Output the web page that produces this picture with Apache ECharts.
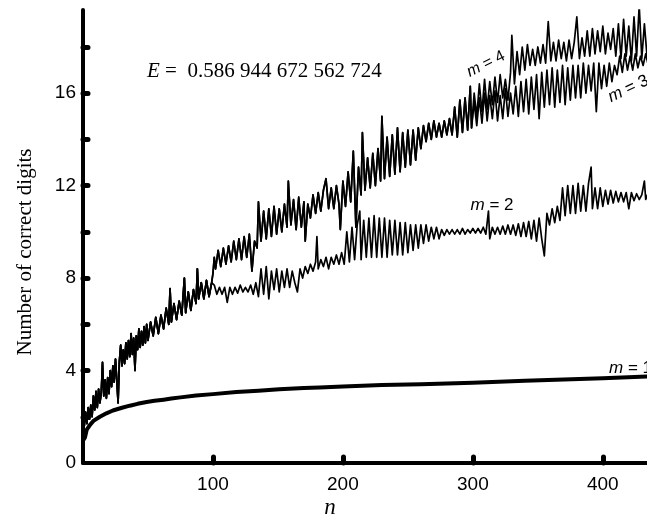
<!DOCTYPE html>
<html>
<head>
<meta charset="utf-8">
<script src="https://cdn.jsdelivr.net/npm/echarts@6/dist/echarts.min.js"></script>
<style>
  html, body { margin: 0; padding: 0; background: #fff; }
  #main { width: 647px; height: 524px; }
</style>
</head>
<body>
<div id="main"></div>
<script>
// values, [n, digits]
var m1Curve = [[0.5,1.0],[1.5,1.1],[2.8,1.43],[5.4,1.65],[8,1.82],[13,2.0],[18,2.15],[23,2.27],[30,2.39],[36,2.48],[42,2.56],[49,2.64],[55,2.69],[62,2.74],[68,2.79],[75,2.84],[87,2.92],[100,2.98],[118,3.07],[135,3.13],[151,3.19],[170,3.24],[182,3.27],[200,3.31],[230,3.37],[260,3.41],[300,3.47],[340,3.56],[370,3.61],[400,3.67],[434,3.74],[450,3.77]];

// shared start of m = 2, 3, 4
var earlyPart = [[1,1.6],[2,2.2],[3,1.7],[4,2.4],[5,1.9],[6,2.5],[7,2.0],[8,2.9],[9,2.3],[10,3.1],[11,2.4],[12,3.2],[13,2.6],[14,3.0],[15,4.35],[16,2.9],[17,3.6],[18,2.8],[19,3.7],[20,3.0],[21,4.0],[22,3.3],[23,4.2],[24,3.5],[25,4.5],[26,3.6],[27,2.6],[28,4.4],[29,5.1],[30,4.2],[31,4.9],[32,4.3],[33,5.2],[34,4.5],[35,5.3],[36,4.6],[37,5.6],[38,4.7],[39,5.4],[40,4.0],[41,5.5],[42,4.9],[43,5.8],[44,5.0],[45,5.7],[46,5.1],[47,5.9],[48,5.2],[49,6.0],[50,5.3],[52,6.1],[54,5.5],[56,6.3],[58,5.6],[60,6.4],[62,5.8],[64,6.7],[66,6.0],[67,7.55],[68,6.1],[70,6.9],[72,6.2],[74,7.0],[76,6.4],[78,8.0],[79,6.5],[81,7.4],[83,6.6],[85,7.5],[87,6.9],[88,8.4],[89,7.1],[91,7.8],[93,7.1],[95,7.9],[97,7.2],[99,7.8]];

var m2Tail = [[101,7.7],[103,7.3],[105,7.6],[107,7.3],[109,7.6],[111,6.95],[113,7.6],[115,7.3],[117,7.6],[119,7.35],[121,7.7],[123,7.4],[125,7.6],[127,7.4],[129,7.7],[131,7.3],[133,7.8],[135,7.2],
  [137,8.4],[139,7.3],[141,8.5],[143,7.1],[145,8.3],[147,7.5],[149,8.4],[151,7.4],[153,8.3],[155,7.6],[157,8.4],[159,7.6],[161,8.3],[163,7.8],[165,7.4],[167,8.4],[169,8.0],
  [171,8.5],[173,8.2],[175,8.6],[177,8.3],[179,8.7],[180,9.8],[181,8.4],[183,8.8],[185,8.5],[187,8.9],[189,8.4],[191,8.9],[193,8.6],[195,9.0],[197,8.6],[199,9.1],
  [201,8.6],[203,10.0],[205,8.7],[207,10.2],[209,8.8],[211,10.3],[213,10.9],[214,8.8],
  [216,10.5],[218,8.9],[220,10.6],[222,8.9],[224,10.7],[226,8.9],[228,10.6],[230,8.9],[232,10.6],[234,8.9],[236,10.5],[238,9.0],[240,10.5],[242,9.0],[244,10.4],[246,9.0],
  [248,10.4],[250,9.1],[252,10.3],[254,9.2],[256,10.3],[258,9.3],[260,10.3],[262,9.5],[264,10.3],[266,9.6],[268,10.2],[270,9.7],[272,10.2],[274,9.7],[276,10.1],
  [278,9.85],[280,10.1],[282,9.9],[284,10.1],[286,9.9],[288,10.1],[290,9.9],[292,10.15],[294,9.9],[296,10.1],[298,9.95],[300,10.15],[302,9.95],[304,10.15],[306,9.95],[308,10.2],[310,9.9],[312,10.9],[313,9.7],
  [315,10.2],[317,9.9],[319,10.2],[321,9.9],[323,10.25],[325,9.9],[327,10.3],[329,9.9],[331,10.3],[333,9.85],[335,10.35],[337,9.8],[339,10.4],[341,9.8],[343,10.45],[345,9.7],[347,10.5],[349,9.6],[351,10.6],[353,9.7],[355,8.96],[357,10.8],
  [359,10.3],[361,11.0],[363,10.4],[365,11.1],[367,10.5],
  [369,11.9],[371,10.7],[373,12.0],[375,10.8],[377,12.0],[379,10.8],[381,12.1],[383,10.9],[385,12.0],[387,10.9],[389,12.1],[391,12.8],[392,11.0],
  [394,11.9],[396,11.0],[398,11.9],[400,11.1],[402,11.8],[404,11.2],[406,11.8],[408,11.25],[410,11.75],[412,11.3],[414,11.7],[416,11.3],[418,11.7],[420,11.0],[422,11.7],[424,11.35],[426,11.65],[428,11.4],[430,11.6],[432,12.2],[433,11.4],[435,11.7],[437,11.45],[439,11.7],[441,11.5],[443,11.75],[445,11.5],[447,11.7],[449,11.55]];

// shared middle of m = 3, 4
var upperPart = [[100,8.2],[101,8.9],[102,8.4],[104,9.2],[106,8.5],[108,9.3],[110,8.6],[112,9.4],[114,8.7],[116,9.6],[118,8.8],[120,9.7],[122,8.8],[124,9.8],[126,8.9],[128,9.9],[130,8.3],[132,9.6],[134,9.3],[135,11.3],[137,9.6],[139,10.9],[141,9.7],[143,11.0],[145,9.8],[147,11.1],[149,9.9],[151,11.0],[153,10.0],[155,11.2],[157,10.2],[158,12.2],[160,10.3],[162,11.4],[164,10.1],[166,11.5],[168,10.2],[170,11.3],[171,9.6],[173,11.2],[175,10.6],[177,11.6],[179,10.8],[181,11.7],[183,10.9],[185,11.8],[187,12.3],[189,11.0],[191,11.9],[193,11.0],[195,12.0],[197,11.2],[198,10.1],[200,12.2],[202,11.1],[204,12.6],[206,11.3],[208,13.5],[210,10.2],[212,12.8],[214,11.6],[215,14.3],[217,11.8],[219,13.2],[221,11.9],[223,13.4],[225,12.0],[227,13.6],[229,12.2],[230,15.0],[232,12.3],[234,14.1],[236,12.4],[238,14.2],[240,12.5],[242,14.5],[244,12.6],[246,14.3],[248,12.8],[250,14.4],[252,12.9],[254,14.4],[256,13.1],[258,14.5],[260,13.6],[262,14.6],[264,13.9],[266,14.7],[268,14.0],[270,14.8],[272,14.1],[274,14.7],[276,14.1],[278,14.8],[280,14.2],[282,14.9],[284,14.2],[286,15.4],[288,14.1],[290,15.7],[292,14.3],[294,15.8],[296,14.4],[298,16.3],[299,14.5]];

var m3Tail = [[301,15.6],[303,14.6],[305,15.8],[307,14.7],[309,16.0],[311,14.8],[313,15.9],[315,14.9],[317,16.1],[319,14.8],[321,15.9],[323,14.9],[325,16.2],[327,15.0],[329,16.0],[331,15.1],[333,16.3],[335,15.0],[337,16.5],[339,15.2],[341,16.6],[343,15.1],[345,16.7],[347,15.3],[349,16.8],[351,14.9],[353,16.9],[355,15.4],[357,17.0],[359,15.5],[361,17.1],[363,15.4],[365,17.0],[367,15.6],[369,17.2],[371,15.5],[373,17.1],[375,15.7],[377,17.2],[379,15.8],[381,17.2],[383,15.8],[385,17.3],[387,16.0],[389,17.2],[391,16.1],[393,17.3],[395,15.2],[397,17.3],[399,16.2],[401,17.2],[403,16.3],[405,17.3],[407,16.5],[409,17.2],[411,16.8],[413,17.6],[415,16.9],[417,17.7],[419,17.0],[421,17.6],[423,17.0],[425,17.7],[427,17.1],[429,17.6],[431,17.2],[433,17.7],[435,17.2],[437,17.6],[439,17.3],[441,17.7],[443,17.3],[445,17.6],[447,17.4],[449,17.7]];

var m4Tail = [[301,16.0],[303,15.0],[305,16.4],[307,15.2],[309,16.6],[311,15.3],[313,16.5],[315,15.5],[317,16.7],[319,15.6],[321,16.8],[323,15.8],[325,16.6],[327,15.7],[329,16.9],[330,18.5],[332,16.4],[334,17.8],[336,16.8],[338,18.0],[340,17.0],[342,18.1],[344,17.2],[346,17.9],[348,17.2],[350,18.0],[352,17.3],[354,18.1],[356,17.3],[358,19.1],[360,17.4],[362,18.2],[364,17.4],[366,18.3],[368,17.5],[370,18.2],[372,17.4],[374,18.3],[376,17.5],[378,18.2],[380,19.3],[382,17.5],[384,18.4],[386,17.6],[388,18.7],[390,17.6],[392,18.8],[394,17.7],[396,18.7],[398,17.8],[400,18.9],[402,17.7],[404,18.6],[406,17.9],[408,18.8],[410,17.6],[412,19.0],[414,17.5],[416,19.2],[418,17.6],[420,18.9],[422,17.4],[424,19.3],[426,17.6],[428,19.8],[430,17.5],[432,19.0],[434,17.6],[436,18.8],[438,17.7],[440,19.1],[442,17.8],[444,18.9],[446,17.8],[448,19.0],[450,17.9]];

var xTicks = [100, 200, 300, 400];
var yTicks = [2, 4, 6, 8, 10, 12, 14, 16, 18];
var yLabels = [0, 4, 8, 12, 16];

var chart = echarts.init(document.getElementById('main'));

function noisy(data, w) {
    return {
        type: 'line',
        data: data,
        showSymbol: false,
        symbol: 'none',
        clip: true,
        animation: false,
        lineStyle: { color: '#000', width: w || 1.7, join: 'round' }
    };
}

var sans = '"Liberation Sans", Arial, sans-serif';
var serif = '"Liberation Serif", "Times New Roman", serif';

// rich text for the m = k labels
function mRich(size) {
    return {
        i: { fontFamily: sans, fontStyle: 'italic', fontSize: size, fill: '#000' },
        r: { fontFamily: sans, fontSize: size, fill: '#000' }
    };
}

var option = {
    animation: false,
    grid: { left: 83, top: 10, bottom: 61, right: 0, containLabel: false },
    xAxis: {
        type: 'value',
        min: 0,
        max: 434,
        interval: 100,
        splitLine: { show: false },
        axisLine: { lineStyle: { color: '#000', width: 4 } },
        axisTick: { inside: true, length: 6, customValues: xTicks, lineStyle: { color: '#000', width: 5, cap: 'round' } },
        axisLabel: { customValues: xTicks, color: '#000', fontFamily: sans, fontSize: 19, margin: 12 }
    },
    yAxis: {
        type: 'value',
        min: 0,
        max: 19.6,
        interval: 2,
        splitLine: { show: false },
        axisLine: { lineStyle: { color: '#000', width: 4, cap: 'round' } },
        axisTick: { inside: true, length: 5, customValues: yTicks, lineStyle: { color: '#000', width: 5, cap: 'round' } },
        axisLabel: { customValues: yLabels, color: '#000', fontFamily: sans, fontSize: 19, margin: 7 }
    },
    series: [
        noisy(m1Curve, 4),
        noisy(earlyPart.concat(m2Tail)),
        noisy(earlyPart.concat(upperPart, m3Tail)),
        noisy(earlyPart.concat(upperPart, m4Tail))
    ],
    graphic: [
        {
            type: 'text', x: 147, y: 71,
            style: {
                text: '{i|E}{r| =  0.586 944 672 562 724}',
                verticalAlign: 'middle',
                rich: {
                    i: { fontFamily: serif, fontStyle: 'italic', fontSize: 21, fill: '#000' },
                    r: { fontFamily: serif, fontSize: 21, fill: '#000' }
                }
            }
        },
        {
            type: 'text', x: 25, y: 252, rotation: Math.PI / 2,
            style: { text: 'Number of correct digits', font: '21px ' + serif, fill: '#000', align: 'center', verticalAlign: 'middle' }
        },
        {
            type: 'text', x: 330, y: 508,
            style: { text: 'n', font: 'italic 23px ' + serif, fill: '#000', align: 'center', verticalAlign: 'middle' }
        },
        {
            type: 'text', x: 486, y: 64, rotation: 0.46,
            style: { text: '{i|m}{r| = 4}', align: 'center', verticalAlign: 'middle', rich: mRich(16) }
        },
        {
            type: 'text', x: 609, y: 98, rotation: 0.44,
            style: { text: '{i|m}{r| = 3}', verticalAlign: 'middle', rich: mRich(17) }
        },
        {
            type: 'text', x: 492, y: 205,
            style: { text: '{i|m}{r| = 2}', align: 'center', verticalAlign: 'middle', rich: mRich(17) }
        },
        {
            type: 'text', x: 609, y: 368,
            style: { text: '{i|m}{r| = 1}', verticalAlign: 'middle', rich: mRich(17) }
        }
    ]
};

chart.setOption(option);
</script>
</body>
</html>
